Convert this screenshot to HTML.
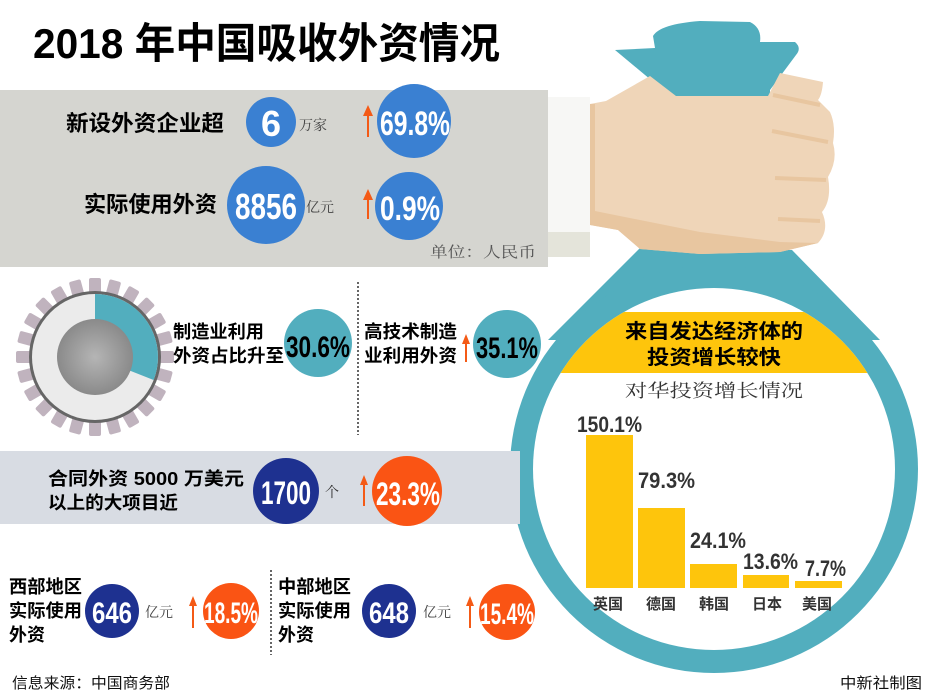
<!DOCTYPE html>
<html><head><meta charset="utf-8"><style>
html,body{margin:0;padding:0;background:#fff}
svg{display:block}
.cjk{font-family:"Liberation Sans","Noto Sans CJK SC",sans-serif;font-weight:bold}
.num{font-family:"Liberation Sans Narrow","Liberation Sans",sans-serif;font-weight:bold}
.ser{font-family:"Liberation Serif","Noto Serif CJK SC",serif}
</style></head><body>
<svg width="930" height="695" viewBox="0 0 930 695" xmlns="http://www.w3.org/2000/svg">
<defs>
<clipPath id="inner"><circle cx="714" cy="469" r="181"/></clipPath>
<radialGradient id="sph" cx="0.5" cy="0.5" r="0.5"><stop offset="0" stop-color="#b5b5b5"/><stop offset="1" stop-color="#8a8a8a"/></radialGradient>
</defs>
<text class="cjk" x="33" y="58" font-size="42" textLength="467" lengthAdjust="spacingAndGlyphs" fill="#000">2018 年中国吸收外资情况</text>

<rect x="0" y="90" width="548" height="177" fill="#d5d5d0"/>
<rect x="548" y="97" width="42" height="160" fill="#f7f7f5"/>
<rect x="548" y="232" width="42" height="25" fill="#e4e4da"/>

<polygon points="642,246 792,250 880,340 548,340" fill="#52aebe"/>
<circle cx="714" cy="469" r="204" fill="#52aebe"/>
<circle cx="714" cy="469" r="181" fill="#fff"/>
<path d="M615,50 L655,48 L653,36 Q660,24 700,21 L750,22 Q762,28 760,42 L795,42 Q802,48 796,55 L770,90 L770,100 L675,100 Z" fill="#52aebe"/>
<path d="M590,104 L606,101 L650,76 L676,96 L768,96 L780,73 L823,82 Q822,95 818,100 L830,112 Q836,125 833,143 Q838,160 828,177 Q832,200 822,212 Q830,230 818,243 L780,252 L700,254 L640,249 L618,230 L590,225 Z" fill="#efd5b8"/>
<path d="M590,210 L700,232 L780,242 L818,243 L780,252 L700,254 L640,249 L618,230 L590,225 Z" fill="#e8c6a0"/>
<rect x="590" y="104" width="5" height="121" fill="#e8c6a0"/>
<line x1="773" y1="95" x2="820" y2="105" stroke="#e8c6a0" stroke-width="4"/>
<line x1="772" y1="131" x2="828" y2="142" stroke="#e8c6a0" stroke-width="4"/>
<line x1="775" y1="178" x2="826" y2="180" stroke="#e8c6a0" stroke-width="4"/>
<line x1="778" y1="219" x2="820" y2="221" stroke="#e8c6a0" stroke-width="4"/>

<text class="cjk" x="66" y="131" font-size="22" textLength="158" lengthAdjust="spacingAndGlyphs">新设外资企业超</text>
<circle cx="271" cy="122" r="25" fill="#3a80d2"/>
<text class="num" x="271" y="136" font-size="36" fill="#fff" text-anchor="middle">6</text>
<text class="ser" x="299" y="130" font-size="14" fill="#444">万家</text>
<path d="M368,137 V114" stroke="#f45a16" stroke-width="2"/><polygon points="363,116 368,105 373,116" fill="#f45a16"/>
<circle cx="414" cy="121" r="37" fill="#3a80d2"/>
<text class="num" x="415" y="135" font-size="34" fill="#fff" text-anchor="middle" textLength="70" lengthAdjust="spacingAndGlyphs">69.8%</text>

<text class="cjk" x="84" y="212" font-size="22" textLength="133" lengthAdjust="spacingAndGlyphs">实际使用外资</text>
<circle cx="266" cy="205" r="39" fill="#3a80d2"/>
<text class="num" x="266" y="219" font-size="36" fill="#fff" text-anchor="middle" textLength="62" lengthAdjust="spacingAndGlyphs">8856</text>
<text class="ser" x="306" y="212" font-size="14" fill="#444">亿元</text>
<path d="M368,219 V198" stroke="#f45a16" stroke-width="2"/><polygon points="363,200 368,189 373,200" fill="#f45a16"/>
<circle cx="409" cy="206" r="34" fill="#3a80d2"/>
<text class="num" x="410" y="220" font-size="34" fill="#fff" text-anchor="middle" textLength="60" lengthAdjust="spacingAndGlyphs">0.9%</text>
<text class="ser" x="430" y="257" font-size="15" fill="#555" textLength="106" lengthAdjust="spacingAndGlyphs">单位：人民币</text>

<g transform="translate(95,357)">
<g fill="#c0b3be">
<rect x="-6" y="-79" width="12" height="16" rx="2" transform="rotate(0)"/><rect x="-6" y="-79" width="12" height="16" rx="2" transform="rotate(15)"/><rect x="-6" y="-79" width="12" height="16" rx="2" transform="rotate(30)"/><rect x="-6" y="-79" width="12" height="16" rx="2" transform="rotate(45)"/><rect x="-6" y="-79" width="12" height="16" rx="2" transform="rotate(60)"/><rect x="-6" y="-79" width="12" height="16" rx="2" transform="rotate(75)"/><rect x="-6" y="-79" width="12" height="16" rx="2" transform="rotate(90)"/><rect x="-6" y="-79" width="12" height="16" rx="2" transform="rotate(105)"/><rect x="-6" y="-79" width="12" height="16" rx="2" transform="rotate(120)"/><rect x="-6" y="-79" width="12" height="16" rx="2" transform="rotate(135)"/><rect x="-6" y="-79" width="12" height="16" rx="2" transform="rotate(150)"/><rect x="-6" y="-79" width="12" height="16" rx="2" transform="rotate(165)"/><rect x="-6" y="-79" width="12" height="16" rx="2" transform="rotate(180)"/><rect x="-6" y="-79" width="12" height="16" rx="2" transform="rotate(195)"/><rect x="-6" y="-79" width="12" height="16" rx="2" transform="rotate(210)"/><rect x="-6" y="-79" width="12" height="16" rx="2" transform="rotate(225)"/><rect x="-6" y="-79" width="12" height="16" rx="2" transform="rotate(240)"/><rect x="-6" y="-79" width="12" height="16" rx="2" transform="rotate(255)"/><rect x="-6" y="-79" width="12" height="16" rx="2" transform="rotate(270)"/><rect x="-6" y="-79" width="12" height="16" rx="2" transform="rotate(285)"/><rect x="-6" y="-79" width="12" height="16" rx="2" transform="rotate(300)"/><rect x="-6" y="-79" width="12" height="16" rx="2" transform="rotate(315)"/><rect x="-6" y="-79" width="12" height="16" rx="2" transform="rotate(330)"/><rect x="-6" y="-79" width="12" height="16" rx="2" transform="rotate(345)"/>
</g>
<circle r="66" fill="#666"/>
<circle r="63" fill="#ebebeb"/>
<path d="M0,0 L0,-63 A63,63 0 0,1 58.6,23 Z" fill="#52aebe"/>
<circle r="38" fill="url(#sph)"/>
</g>
<text class="cjk" x="173" y="338" font-size="18" textLength="91" lengthAdjust="spacingAndGlyphs">制造业利用</text>
<text class="cjk" x="173" y="362" font-size="18" textLength="111" lengthAdjust="spacingAndGlyphs">外资占比升至</text>
<circle cx="318" cy="343" r="34" fill="#52aebe"/>
<text class="num" x="318" y="357" font-size="30" fill="#000" text-anchor="middle" textLength="64" lengthAdjust="spacingAndGlyphs">30.6%</text>
<line x1="358" y1="282" x2="358" y2="435" stroke="#333" stroke-width="1.5" stroke-dasharray="2,2"/>
<text class="cjk" x="364" y="338" font-size="18" textLength="93" lengthAdjust="spacingAndGlyphs">高技术制造</text>
<text class="cjk" x="364" y="362" font-size="18" textLength="93" lengthAdjust="spacingAndGlyphs">业利用外资</text>
<path d="M466,362 V342" stroke="#f45a16" stroke-width="2"/><polygon points="462,344 466,334 470,344" fill="#f45a16"/>
<circle cx="507" cy="344" r="34" fill="#52aebe"/>
<text class="num" x="507" y="358" font-size="30" fill="#000" text-anchor="middle" textLength="62" lengthAdjust="spacingAndGlyphs">35.1%</text>

<path d="M0,451 H520 V524 H0 Z" fill="#d8dce3"/>
<text class="cjk" x="48" y="485" font-size="18" textLength="196" lengthAdjust="spacingAndGlyphs">合同外资 5000 万美元</text>
<text class="cjk" x="48" y="509" font-size="18" textLength="130" lengthAdjust="spacingAndGlyphs">以上的大项目近</text>
<circle cx="286" cy="491" r="33" fill="#1e3190"/>
<text class="num" x="286" y="504" font-size="32" fill="#fff" text-anchor="middle" textLength="50" lengthAdjust="spacingAndGlyphs">1700</text>
<text class="ser" x="325" y="497" font-size="14" fill="#333">个</text>
<path d="M364,506 V483" stroke="#f45a16" stroke-width="2"/><polygon points="360,485 364,475 368,485" fill="#f45a16"/>
<circle cx="407" cy="491" r="35" fill="#fa5414"/>
<text class="num" x="408" y="505" font-size="32" fill="#fff" text-anchor="middle" textLength="64" lengthAdjust="spacingAndGlyphs">23.3%</text>

<text class="cjk" x="9" y="593" font-size="18" textLength="73" lengthAdjust="spacingAndGlyphs">西部地区</text>
<text class="cjk" x="9" y="617" font-size="18" textLength="73" lengthAdjust="spacingAndGlyphs">实际使用</text>
<text class="cjk" x="9" y="641" font-size="18" textLength="36" lengthAdjust="spacingAndGlyphs">外资</text>
<circle cx="112" cy="611" r="27" fill="#1e3190"/>
<text class="num" x="112" y="623" font-size="30" fill="#fff" text-anchor="middle" textLength="40" lengthAdjust="spacingAndGlyphs">646</text>
<text class="ser" x="145" y="617" font-size="14" fill="#444">亿元</text>
<path d="M193,628 V604" stroke="#f45a16" stroke-width="2"/><polygon points="189,606 193,596 197,606" fill="#f45a16"/>
<circle cx="231" cy="611" r="28" fill="#fa5414"/>
<text class="num" x="231" y="623" font-size="30" fill="#fff" text-anchor="middle" textLength="54" lengthAdjust="spacingAndGlyphs">18.5%</text>
<line x1="271" y1="570" x2="271" y2="655" stroke="#333" stroke-width="1.5" stroke-dasharray="2,2"/>
<text class="cjk" x="278" y="593" font-size="18" textLength="73" lengthAdjust="spacingAndGlyphs">中部地区</text>
<text class="cjk" x="278" y="617" font-size="18" textLength="73" lengthAdjust="spacingAndGlyphs">实际使用</text>
<text class="cjk" x="278" y="641" font-size="18" textLength="36" lengthAdjust="spacingAndGlyphs">外资</text>
<circle cx="389" cy="611" r="27" fill="#1e3190"/>
<text class="num" x="389" y="623" font-size="30" fill="#fff" text-anchor="middle" textLength="40" lengthAdjust="spacingAndGlyphs">648</text>
<text class="ser" x="423" y="617" font-size="14" fill="#444">亿元</text>
<path d="M470,628 V604" stroke="#f45a16" stroke-width="2"/><polygon points="466,606 470,596 474,606" fill="#f45a16"/>
<circle cx="507" cy="612" r="28" fill="#fa5414"/>
<text class="num" x="507" y="624" font-size="30" fill="#fff" text-anchor="middle" textLength="54" lengthAdjust="spacingAndGlyphs">15.4%</text>

<text x="12" y="688" font-size="15" font-family="Liberation Sans,'Noto Sans CJK SC',sans-serif" fill="#111" textLength="158" lengthAdjust="spacingAndGlyphs">信息来源：中国商务部</text>
<text x="840" y="688" font-size="15" font-family="Liberation Sans,'Noto Sans CJK SC',sans-serif" fill="#111" textLength="82" lengthAdjust="spacingAndGlyphs">中新社制图</text>

<g clip-path="url(#inner)">
<rect x="500" y="312" width="430" height="61" fill="#fec50c"/>
</g>
<text class="cjk" x="714" y="338" font-size="20" text-anchor="middle" textLength="178" lengthAdjust="spacingAndGlyphs">来自发达经济体的</text>
<text class="cjk" x="714" y="364" font-size="20" text-anchor="middle" textLength="134" lengthAdjust="spacingAndGlyphs">投资增长较快</text>
<text class="ser" x="714" y="397" font-size="18" fill="#333" text-anchor="middle" textLength="178" lengthAdjust="spacingAndGlyphs">对华投资增长情况</text>
<g fill="#fec50c">
<rect x="586" y="435" width="47" height="153"/>
<rect x="638" y="508" width="47" height="80"/>
<rect x="690" y="564" width="47" height="24"/>
<rect x="743" y="575" width="46" height="13"/>
<rect x="795" y="581" width="47" height="7"/>
</g>
<g class="num" font-size="22" fill="#333">
<text x="577" y="432" textLength="65" lengthAdjust="spacingAndGlyphs">150.1%</text>
<text x="638" y="488" textLength="57" lengthAdjust="spacingAndGlyphs">79.3%</text>
<text x="690" y="548" textLength="56" lengthAdjust="spacingAndGlyphs">24.1%</text>
<text x="743" y="569" textLength="55" lengthAdjust="spacingAndGlyphs">13.6%</text>
<text x="805" y="576" textLength="41" lengthAdjust="spacingAndGlyphs">7.7%</text>
</g>
<g class="cjk" font-size="15" fill="#333">
<text x="593" y="609">英国</text>
<text x="646" y="609">德国</text>
<text x="699" y="609">韩国</text>
<text x="752" y="609">日本</text>
<text x="802" y="609">美国</text>
</g>
</svg>
</body></html>
